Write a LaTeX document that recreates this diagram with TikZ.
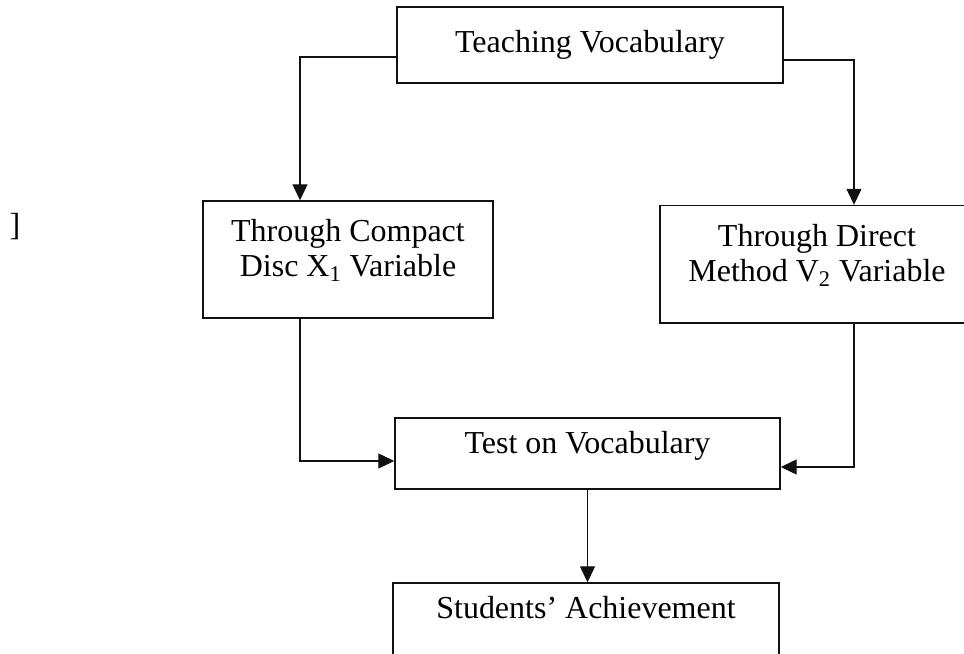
\documentclass[tikz,border=0pt]{standalone}
\usepackage{fontspec}
\setmainfont{Liberation Serif}
\usetikzlibrary{arrows.meta}
\definecolor{cink}{HTML}{111111}

\begin{document}
\begin{tikzpicture}[x=1mm,y=-1mm,
  box/.style={draw=cink, line width=0.8pt, align=center, inner sep=1mm},
  upbox/.style={box, text depth=4.5mm},
  arr/.style={-{Triangle[length=3.2mm, width=3mm]}, line width=0.7pt, draw=cink},
  font=\fontsize{18.2}{20}\selectfont]

\useasboundingbox (0,0) rectangle (192.8,130.8);
\node[box, minimum width=77.2mm, minimum height=15.2mm] (teach) at (118.0,9.0) {Teaching Vocabulary};
\node[upbox, minimum width=58mm, minimum height=23.4mm] (cd) at (69.6,51.9) {Through Compact\\Disc X\textsubscript{1} Variable};
\node[upbox, minimum width=62.8mm, minimum height=23.5mm] (dm) at (163.4,52.85) {Through Direct\\Method V\textsubscript{2} Variable};
\node[upbox, minimum width=77mm, minimum height=14.2mm] (test) at (117.5,90.7) {Test on Vocabulary};
\node[upbox, minimum width=77.2mm, minimum height=14.4mm] (ach) at (117.2,123.8) {Students' Achievement};
\node[inner sep=0] (brk) at (3.0,45.4) {]};

\draw[arr] (teach.west |- 0,11.4) -| (cd.north -| 60,0);
\draw[arr] (teach.east |- 0,12) -| (dm.north -| 170.8,0);
\draw[arr] (cd.south -| 60,0) |- (test.west |- 0,92.2);
\draw[arr] (dm.south -| 170.8,0) |- (test.east |- 0,93.4);
\draw[arr] (test.south) -- (ach.north -| test.south);
\end{tikzpicture}
\end{document}
